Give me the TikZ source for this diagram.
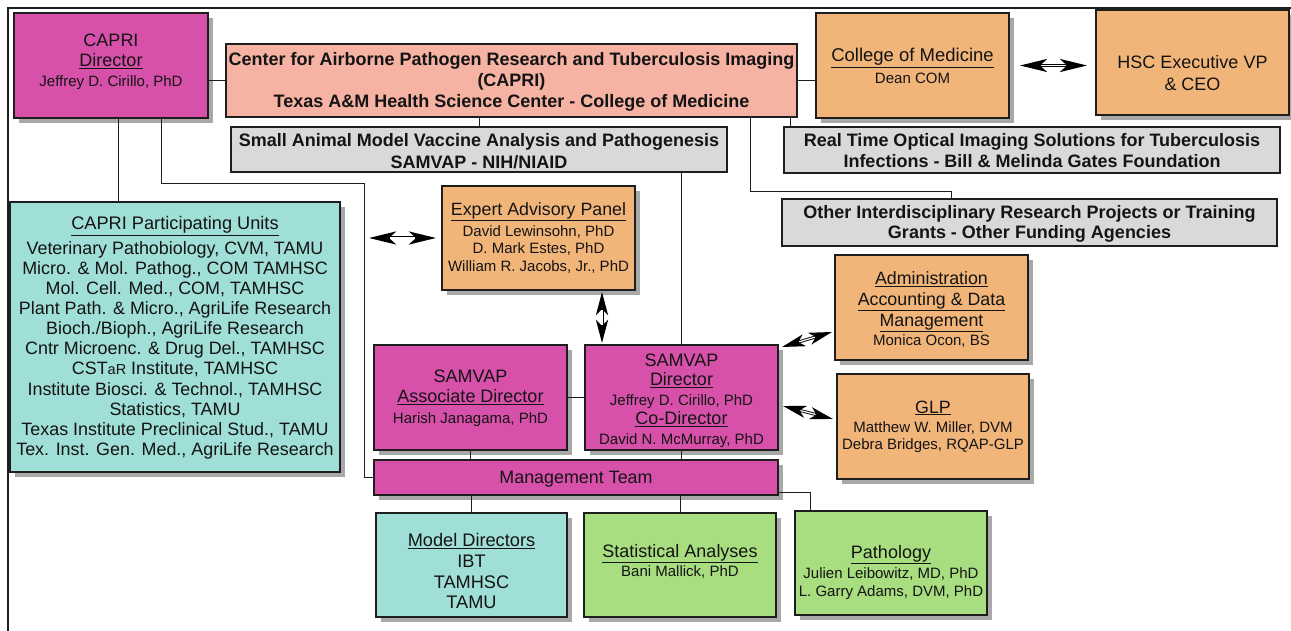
\documentclass[tikz,border=0pt]{standalone}
\usepackage{fontspec}
\setmainfont{Liberation Sans}
\usetikzlibrary{arrows.meta,shadows,fit}
\definecolor{magC}{RGB}{215,80,170}
\definecolor{salC}{RGB}{246,178,162}
\definecolor{oraC}{RGB}{241,181,122}
\definecolor{teaC}{RGB}{160,223,215}
\definecolor{greC}{RGB}{168,221,128}
\definecolor{gryC}{RGB}{217,217,217}
\definecolor{shdC}{RGB}{168,168,168}
\definecolor{txtC}{RGB}{20,20,20}
\definecolor{linC}{RGB}{30,30,30}
\newcommand\fsz[2]{\fontsize{#1}{#2}\selectfont}
\newcommand\undl[1]{\underline{#1}}
\begin{document}
\begin{tikzpicture}[x=1pt,y=-1pt,
  box/.style={draw=linC,line width=1.3pt,inner sep=0pt,outer sep=0pt},
  shd/.style={drop shadow={shadow xshift=5pt,shadow yshift=-5pt,fill=shdC,opacity=1}},
  txt/.style={anchor=north,align=center,inner sep=0pt,text=txtC},
  conn/.style={draw=linC,line width=1pt},
  dbl/.style={draw=black,line width=3pt,{Stealth[length=27pt,width=13pt,inset=7pt]}-{Stealth[length=27pt,width=13pt,inset=7pt]}},
  dbls/.style={draw=black,line width=3pt,{Stealth[length=23pt,width=12pt,inset=6pt]}-{Stealth[length=23pt,width=12pt,inset=6pt]}},
  core/.style={draw=white,line width=1.2pt}
]
\useasboundingbox (0,0) rectangle (1291,631);
\draw[linC,line width=1.2pt] (8,631) -- (8,8) -- (1291,8);

% boxes
\node[box,shd,fill=magC,fit={(14,13)(208,118)}] (capri) {};
\node[box,fill=salC,fit={(226,44)(797,117)}] (center) {};
\node[box,shd,fill=oraC,fit={(816,13)(1009,118)}] (com) {};
\node[box,shd,fill=oraC,fit={(1096,10)(1289,115)}] (hsc) {};
\node[box,fill=gryC,fit={(231,127)(727,172)}] (samg) {};
\node[box,fill=gryC,fit={(784,127)(1280,173)}] (rt) {};
\node[box,fill=gryC,fit={(782,199)(1277,246)}] (other) {};
\node[box,shd,fill=teaC,fit={(10,202)(340,472)}] (parts) {};
\node[box,shd,fill=oraC,fit={(442,186)(635,290)}] (expert) {};
\node[box,shd,fill=oraC,fit={(835,255)(1028,360)}] (admin) {};
\node[box,shd,fill=magC,fit={(374,345)(567,450)}] (assoc) {};
\node[box,shd,fill=magC,fit={(585,345)(778,450)}] (dir) {};
\node[box,shd,fill=oraC,fit={(837,374)(1029,479)}] (glp) {};
\node[box,shd,fill=magC,fit={(374,460)(778,495)}] (mgmt) {};
\node[box,shd,fill=teaC,fit={(376,513)(567,617)}] (model) {};
\node[box,shd,fill=greC,fit={(584,513)(776,617)}] (stat) {};
\node[box,shd,fill=greC,fit={(795,511)(987,615)}] (path) {};

% texts
\node[txt,font=\fsz{18}{20}] (capriT) at (111,33.5) {CAPRI\\\undl{Director}\\\fsz{15}{20}Jeffrey D. Cirillo, PhD};
\node[txt,font=\bfseries\fsz{18}{21}] (centerT) at (511.5,51.8) {Center for Airborne Pathogen Research and Tuberculosis Imaging\\(CAPRI)\\Texas A\&M Health Science Center - College of Medicine};
\node[txt,font=\fsz{18.5}{22}] (comT) at (912.5,48.3) {\undl{College of Medicine}\\\fsz{15}{22}Dean COM};
\node[txt,font=\fsz{18}{22}] (hscT) at (1192.5,55.5) {HSC Executive VP\\\& CEO};
\node[txt,font=\bfseries\fsz{18}{21.5}] (samgT) at (479,133.3) {Small Animal Model Vaccine Analysis and Pathogenesis\\SAMVAP - NIH/NIAID};
\node[txt,font=\bfseries\fsz{18}{21}] (rtT) at (1032,133.3) {Real Time Optical Imaging Solutions for Tuberculosis\\Infections - Bill \& Melinda Gates Foundation};
\node[txt,font=\bfseries\fsz{18}{20}] (otherT) at (1029.5,205.3) {Other Interdisciplinary Research Projects or Training\\Grants - Other Funding Agencies};
\node[txt,font=\fsz{17.9}{20.1}] (partsT) at (175,216.4) {\fsz{18.2}{20.1}\undl{CAPRI Participating Units}\\[4.5pt]
Veterinary Pathobiology, CVM, TAMU\\Micro. \& Mol. Pathog., COM TAMHSC\\Mol. Cell. Med., COM, TAMHSC\\
Plant Path. \& Micro., AgriLife Research\\Bioch./Bioph., AgriLife Research\\Cntr Microenc. \& Drug Del., TAMHSC\\
CST{\fsz{14.5}{20.1}aR} Institute, TAMHSC\\Institute Biosci. \& Technol., TAMHSC\\Statistics, TAMU\\
Texas Institute Preclinical Stud., TAMU\\Tex. Inst. Gen. Med., AgriLife Research};
\node[txt,font=\fsz{15}{17.5}] (expertT) at (538.5,202.3) {\fsz{17.8}{17.5}\undl{Expert Advisory Panel}\\[3.5pt]David Lewinsohn, PhD\\D. Mark Estes, PhD\\William R. Jacobs, Jr., PhD};
\node[txt,font=\fsz{18}{20.5}] (assocT) at (470.5,369.3) {SAMVAP\\\undl{Associate Director}\\\fsz{15}{20.5}Harish Janagama, PhD};
\node[txt,font=\fsz{18}{19.5}] (dirT) at (681.5,353.3) {SAMVAP\\\undl{Director}\\\fsz{15}{19.5}Jeffrey D. Cirillo, PhD\\\undl{Co-Director}\\\fsz{15}{19.5}David N. McMurray, PhD};
\node[txt,font=\fsz{17.9}{21}] (mgmtT) at (576,471.4) {Management Team};
\node[txt,font=\fsz{17.8}{21}] (adminT) at (931.5,271.4) {\undl{Administration}\\\undl{Accounting \& Data}\\\undl{Management}\\[-2pt]\fsz{15}{21}Monica Ocon, BS};
\node[txt,font=\fsz{15}{17}] (glpT) at (933,400.4) {\fsz{17.8}{17}\undl{GLP}\\[2.5pt]Matthew W. Miller, DVM\\Debra Bridges, RQAP-GLP};
\node[txt,font=\fsz{18.2}{20.7}] (modelT) at (471.5,533.3) {\undl{Model Directors}\\IBT\\TAMHSC\\TAMU};
\node[txt,font=\fsz{18}{19}] (statT) at (680,544.3) {\undl{Statistical Analyses}\\\fsz{15}{19}Bani Mallick, PhD};
\node[txt,font=\fsz{15}{18}] (pathT) at (891,545.3) {\fsz{18}{18}\undl{Pathology}\\[2pt]Julien Leibowitz, MD, PhD\\L. Garry Adams, DVM, PhD};

% connectors
\coordinate (bendA) at (364,184);
\draw[conn] (capri.east |- center.west) -- (center.west);
\draw[conn] (center.east) -- (center.east -| com.west);
\draw[conn] (samg.north) -- (samg.north |- center.south);
\draw[conn] ([xshift=6pt]rt.north west) -- ([xshift=6pt]rt.north west |- center.south);
\draw[conn] ([xshift=-47pt]center.south east) |- ([xshift=169pt,yshift=7pt]other.north west) -- ([xshift=169pt]other.north west);
\draw[conn] (dir.north) -- (dir.north |- samg.south);
\draw[conn] ([xshift=104pt]capri.south west) -- ([xshift=104pt]capri.south west |- parts.north);
\draw[conn] ([xshift=147pt]capri.south west) |- (bendA) |- (mgmt.west);
\draw[conn] (assoc.east) -- (dir.west);
\draw[conn] (assoc.south) -- (assoc.south |- mgmt.north);
\draw[conn] (dir.south) -- (dir.south |- mgmt.north);
\draw[conn] (model.north) -- (model.north |- mgmt.south);
\draw[conn] (stat.north) -- (stat.north |- mgmt.south);
\draw[conn] ([yshift=3pt]mgmt.south east) -| ([xshift=15pt]path.north west);

% double arrows (black outlined shaft with white core)
\draw[dbl,shorten <=11pt,shorten >=9pt] (com.east) -- (com.east -| hsc.west);
\draw[core,shorten <=32pt,shorten >=30pt] (com.east) -- (com.east -| hsc.west);
\draw[dbl,shorten <=29pt,shorten >=6pt] (parts.east |- expert.west) -- (expert.west);
\draw[core,shorten <=50pt,shorten >=27pt] (parts.east |- expert.west) -- (expert.west);
\draw[dbls,shorten <=2pt,shorten >=2pt] ([xshift=-33pt]expert.south east) -- ([xshift=17pt]dir.north west);
\draw[core,shorten <=20pt,shorten >=20pt] ([xshift=-33pt]expert.south east) -- ([xshift=17pt]dir.north west);
\draw[dbls] ([xshift=4pt,yshift=-2pt]dir.north east) -- ([xshift=-3pt,yshift=28pt]admin.south west);
\draw[core,shorten <=18pt,shorten >=18pt] ([xshift=4pt,yshift=-2pt]dir.north east) -- ([xshift=-3pt,yshift=28pt]admin.south west);
\draw[dbls] ([xshift=5pt,yshift=-8.5pt]dir.east) -- ([xshift=-4pt,yshift=7.5pt]glp.west);
\draw[core,shorten <=18pt,shorten >=18pt] ([xshift=5pt,yshift=-8.5pt]dir.east) -- ([xshift=-4pt,yshift=7.5pt]glp.west);
\end{tikzpicture}
\end{document}
